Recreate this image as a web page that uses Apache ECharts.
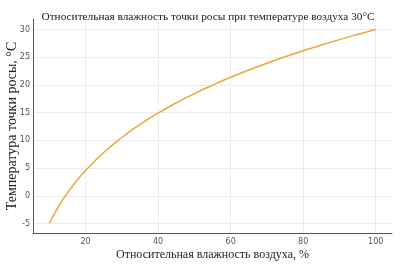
<!DOCTYPE html>
<html><head><meta charset="utf-8">
<script src="https://cdn.jsdelivr.net/npm/echarts@6/dist/echarts.min.js"></script>
<style>html,body{margin:0;padding:0;background:#fff}#c{width:400px;height:273px}</style>
</head><body><div id="c"></div>
<script>
const humidity = [10, 12, 14, 16, 18, 20, 25, 30, 35, 40, 45, 50, 55, 60, 65, 70, 75, 80, 85, 90, 95, 100];
const dewPoint = [-4.96, -2.52, -0.42, 1.43, 3.08, 4.58, 7.82, 10.53, 12.87, 14.93, 16.77, 18.44, 19.97, 21.39, 22.70, 23.93, 25.08, 26.17, 27.20, 28.18, 29.11, 30.0];
const xTicks = [20, 40, 60, 80, 100];
const yTicks = [-5, 0, 5, 10, 15, 20, 25, 30];
const titleText = 'Относительная влажность точки росы при температуре воздуха 30°C';
const xName = 'Относительная влажность воздуха, %';
const yName = 'Температура точки росы, °C';

const chart = echarts.init(document.getElementById('c'), null, {renderer: 'canvas'});
const serif = 'Liberation Serif';
chart.setOption({
  animation: false,
  backgroundColor: '#fff',
  title: {
    text: titleText, left: 203, top: 7, textAlign: 'center',
    textStyle: {fontFamily: serif, fontSize: 11.3, fontWeight: 'normal', color: '#222'}
  },
  grid: {left: 33, right: 8, top: 19, bottom: 40, containLabel: false, outerBoundsMode: 'none'},
  xAxis: {
    type: 'value', min: 5.5, max: 104.5,
    name: xName, nameLocation: 'middle', nameGap: 16, nameMoveOverlap: false,
    nameTextStyle: {fontFamily: serif, fontSize: 12, color: '#222'},
    axisLine: {show: true, onZero: false, lineStyle: {color: '#555', width: 1}},
    axisTick: {show: false, customValues: xTicks},
    axisLabel: {customValues: xTicks, fontFamily: 'DejaVu Sans', fontSize: 8, color: '#555', margin: 5},
    splitLine: {show: true, lineStyle: {color: '#ececec', width: 1}}
  },
  yAxis: {
    type: 'value', min: -6.7, max: 31.9,
    name: yName, nameLocation: 'middle', nameGap: 14, nameRotate: 90, nameMoveOverlap: false,
    nameTextStyle: {fontFamily: serif, fontSize: 14, color: '#222'},
    axisLine: {show: true, onZero: false, lineStyle: {color: '#555', width: 1}},
    axisTick: {show: false, customValues: yTicks},
    axisLabel: {customValues: yTicks, fontFamily: 'DejaVu Sans', fontSize: 8, color: '#555', margin: 3},
    splitLine: {show: true, lineStyle: {color: '#ececec', width: 1}}
  },
  series: [{
    type: 'line', smooth: true, showSymbol: false,
    data: humidity.map((h, i) => [h, dewPoint[i]]),
    lineStyle: {color: '#e8a838', width: 1.5}
  }]
});
</script></body></html>
